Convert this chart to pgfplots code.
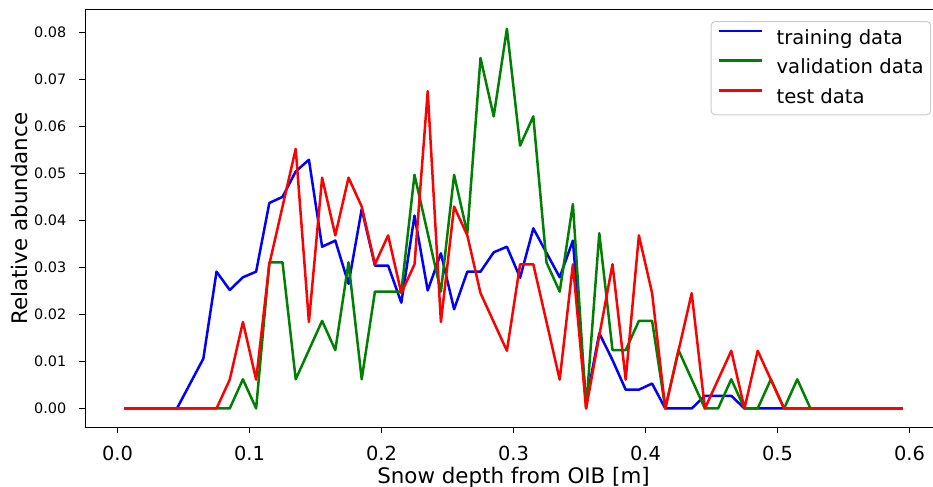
\documentclass[border=0pt]{standalone}
\usepackage{fontspec}
\setmainfont{DejaVu Sans}
\usepackage{pgfplots}
\usepackage{pgfplotstable}
\pgfplotsset{compat=1.18}

\definecolor{mplgreen}{RGB}{0,128,0}

% bin centre, training, validation, test
\pgfplotstableread{
x     train  valid   test
0.005 0      0       0
0.015 0      0       0
0.025 0      0       0
0.035 0      0       0
0.045 0      0       0
0.055 0.0053 0       0
0.065 0.0106 0       0
0.075 0.0291 0       0
0.085 0.0252 0       0.00613
0.095 0.0279 0.00621 0.0184
0.105 0.0291 0       0.00613
0.115 0.0437 0.03106 0.03067
0.125 0.0450 0.03106 0.04294
0.135 0.0504 0.00621 0.05521
0.145 0.0529 0.01242 0.0184
0.155 0.0344 0.01863 0.04908
0.165 0.0357 0.01242 0.03681
0.175 0.0265 0.03106 0.04908
0.185 0.0424 0.00621 0.04294
0.195 0.0304 0.02484 0.03067
0.205 0.0304 0.02484 0.03681
0.215 0.0225 0.02484 0.02454
0.225 0.0410 0.04969 0.03067
0.235 0.0251 0.03727 0.06748
0.245 0.0330 0.02484 0.0184
0.255 0.0211 0.04969 0.04294
0.265 0.0291 0.03727 0.03681
0.275 0.0291 0.07453 0.02454
0.285 0.0332 0.06211 0.0184
0.295 0.0344 0.08075 0.01227
0.305 0.0278 0.0559  0.03067
0.315 0.0383 0.06211 0.03067
0.325 0.0331 0.03106 0.0184
0.335 0.0279 0.02484 0.00613
0.345 0.0357 0.04348 0.03067
0.355 0.0013 0       0
0.365 0.0160 0.03727 0.0155
0.375 0.0103 0.01242 0.03067
0.385 0.0040 0.01242 0.00613
0.395 0.0040 0.01863 0.03681
0.405 0.0053 0.01863 0.02454
0.415 0      0       0
0.425 0      0.01242 0.01227
0.435 0      0.00621 0.02454
0.445 0.0027 0       0
0.455 0.0027 0       0.00613
0.465 0.0027 0.00621 0.01227
0.475 0      0       0
0.485 0      0       0.01227
0.495 0      0.00621 0.00613
0.505 0      0       0
0.515 0      0.00621 0
0.525 0      0       0
0.535 0      0       0
0.545 0      0       0
0.555 0      0       0
0.565 0      0       0
0.575 0      0       0
0.585 0      0       0
0.595 0      0       0
}\snowdata

\begin{document}
\begin{tikzpicture}
\begin{axis}[
    scale only axis,
    width=428.3pt, height=208.9pt,
    xmin=-0.0245, xmax=0.6245,
    ymin=-0.00404, ymax=0.0848,
    xtick={0,0.1,0.2,0.3,0.4,0.5,0.6},
    ytick={0,0.01,0.02,0.03,0.04,0.05,0.06,0.07,0.08},
    xtick pos=lower, ytick pos=left,
    tick align=outside,
    major tick length=3pt,
    every tick/.style={black, line width=0.6pt},
    axis line style={black, line width=0.6pt},
    scaled ticks=false,
    /pgf/number format/assume math mode=true,
    xticklabel style={/pgf/number format/.cd, fixed, fixed zerofill, precision=1, /tikz/.cd,
        font=\fontsize{9.7}{11}\selectfont, anchor=base, inner sep=0pt, yshift=-13.75pt},
    yticklabel style={/pgf/number format/.cd, fixed, fixed zerofill, precision=2, /tikz/.cd,
        font=\fontsize{7.2}{8.5}\selectfont, anchor=east, inner sep=0pt, xshift=-6.25pt},
    xlabel={Snow depth from OIB [m]},
    ylabel={Relative abundance},
    xlabel style={at={([yshift=-27.9pt]axis description cs:0.5,0)}, anchor=base,
        inner sep=0pt, font=\fontsize{10.7}{12}\selectfont},
    ylabel style={at={([xshift=-28.95pt]axis description cs:0,0.5)}, anchor=base,
        inner sep=0pt, font=\fontsize{10.7}{12}\selectfont},
    every axis plot/.append style={line width=1.25pt, line join=round},
    legend cell align=left,
    legend image code/.code={\draw[#1, line width=1.25pt] (0pt,3.8pt) -- (21.5pt,3.8pt);},
    legend style={at={(1,1)}, anchor=north east, xshift=-5.4pt, yshift=-5.65pt,
        draw=black!20, line width=0.5pt, rounded corners=2pt, fill=white,
        font=\fontsize{9.8}{11}\selectfont,
        inner xsep=3.5pt, inner ysep=3.9pt, row sep=5.7pt, column sep=6.5pt,
        nodes={inner sep=0pt, text height=7.45pt, text depth=1.7pt}},
]
\addplot[blue] table[x=x, y=train] {\snowdata};
\addlegendentry{training data}
\addplot[mplgreen] table[x=x, y=valid] {\snowdata};
\addlegendentry{validation data}
\addplot[red] table[x=x, y=test] {\snowdata};
\addlegendentry{test data}
\end{axis}
\pgfresetboundingbox
\path[use as bounding box] (-42.6pt,-29.75pt) rectangle (423.9pt,213.75pt);
\end{tikzpicture}
\end{document}
